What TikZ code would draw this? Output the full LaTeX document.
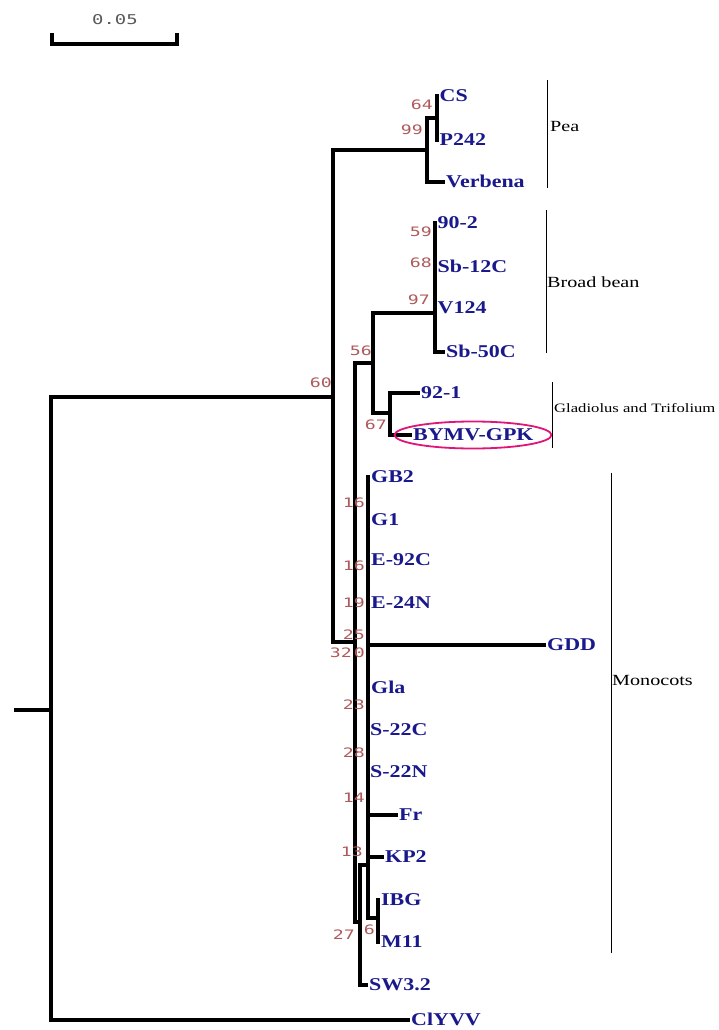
\documentclass[tikz,border=0pt]{standalone}
\usepackage{fontspec}
\usepackage{xcolor}
\usepackage{tikz}
\usetikzlibrary{shapes.geometric}
\setmainfont{Liberation Serif}
\newfontfamily\taxfont[FakeStretch=1.22]{Liberation Serif}
\newfontfamily\grpfont[FakeStretch=1.3]{Liberation Serif}
\newfontfamily\bootfont[FakeStretch=1.4]{DejaVu Sans Mono}
\definecolor{taxblue}{RGB}{25,25,140}
\definecolor{bootred}{RGB}{175,90,90}
\definecolor{ovalpink}{RGB}{225,20,120}
\tikzset{
 br/.style={line width=3.8pt},
 grp/.style={line width=0.8pt},
 leaf/.style={anchor=west,inner sep=1pt,text height=11.5pt,text depth=0pt,text=taxblue,
  font=\taxfont\bfseries\fontsize{18pt}{18pt}\selectfont},
 boot/.style={anchor=east,inner sep=0pt,text=bootred,font=\bootfont\fontsize{13pt}{13pt}\selectfont},
 grplab/.style={anchor=west,inner sep=1pt,font=\grpfont\fontsize{15.5pt}{15.5pt}\selectfont}
}
\begin{document}
\begin{tikzpicture}[x=1pt,y=-1pt]
\path[use as bounding box,fill=white](0,0)rectangle(719,1030);
%scale bar
\draw[br](52,33)|-(177,44)--(177,33);
\node[text=black!65,font=\bootfont\fontsize{13.5pt}{13.5pt}\selectfont] (scale) at (115,20) {0.05};
%inner nodes
\coordinate (base) at (14,710);
\coordinate (root) at (51,710);
\coordinate (n60) at (333,397);
\coordinate (n99) at (427,150);
\coordinate (n64) at (437,118);
\coordinate (nX) at (355,642);
\coordinate (n56) at (373,363);
\coordinate (n97) at (435,313);
\coordinate (n67) at (390,413);
\coordinate (n27) at (360,922);
\coordinate (nM) at (368,865);
\coordinate (nIM) at (378,918);
%leaves
\node[leaf] (CS) at (438.5,96) {CS};
\node[leaf] (P242) at (438.5,140) {P242};
\node[leaf] (Verbena) at (445,182) {Verbena};
\node[leaf] (t902) at (436.5,223) {90-2};
\node[leaf] (Sb12C) at (436.5,267) {Sb-12C};
\node[leaf] (V124) at (436.5,308) {V124};
\node[leaf] (Sb50C) at (445,352) {Sb-50C};
\node[leaf] (t921) at (420,393) {92-1};
\node[leaf] (BYMV) at (412,435) {BYMV-GPK};
\node[leaf] (GB2) at (370,477) {GB2};
\node[leaf] (G1) at (370,520) {G1};
\node[leaf] (E92C) at (370,560) {E-92C};
\node[leaf] (E24N) at (370,603) {E-24N};
\node[leaf] (GDD) at (546,645) {GDD};
\node[leaf] (Gla) at (370,688) {Gla};
\node[leaf] (S22C) at (369,730) {S-22C};
\node[leaf] (S22N) at (369,772) {S-22N};
\node[leaf] (Fr) at (398,815) {Fr};
\node[leaf] (KP2) at (384,857) {KP2};
\node[leaf] (IBG) at (380,900) {IBG};
\node[leaf] (M11) at (380,942) {M11};
\node[leaf] (SW32) at (368,985) {SW3.2};
\node[leaf] (ClYVV) at (410,1020) {ClYVV};
%branches
\draw[br](base)--(root);
\draw[br](root)|-(n60) (root)|-(ClYVV.west);
\draw[br](n60)|-(n99) (n60)|-(nX);
\draw[br](n99)|-(n64) (n99)|-(Verbena.west);
\draw[br](n64)|-(CS.west) (n64)|-(P242.west);
\draw[br](nX)|-(n56) (nX)|-(n27);
\draw[br](n56)|-(n97) (n56)|-(n67);
\draw[br](n97)|-(t902.west) (n97)|-(Sb12C.west) (n97)|-(V124.west) (n97)|-(Sb50C.west);
\draw[br](n67)|-(t921.west) (n67)|-(BYMV.west);
\draw[br](n27)|-(nM) (n27)|-(SW32.west);
\draw[br](nM)|-(GB2.west) (nM)|-(G1.west) (nM)|-(E92C.west) (nM)|-(E24N.west)
 (nM)|-(GDD.west) (nM)|-(Gla.west) (nM)|-(S22C.west) (nM)|-(S22N.west)
 (nM)|-(Fr.west) (nM)|-(KP2.west) (nM)|-(nIM);
\draw[br](nIM)|-(IBG.west) (nIM)|-(M11.west);
\node[draw=ovalpink,line width=1.8pt,ellipse,minimum width=157pt,minimum height=27pt] (oval) at (473,435) {};
%bootstrap values
\node[boot] (b60) at (332,383) {60};
\node[boot] (b99) at (423,130) {99};
\node[boot] (b64) at (433,105) {64};
\node[boot] (b59) at (432,232) {59};
\node[boot] (b68) at (432,263) {68};
\node[boot] (b97) at (430,300) {97};
\node[boot] (b56) at (372,351) {56};
\node[boot] (b67) at (387,425) {67};
\node[boot] (b16a) at (365,503) {16};
\node[boot] (b16b) at (365,566) {16};
\node[boot] (b19) at (365,603) {19};
\node[boot] (b25) at (365,635) {25};
\node[boot] (b32) at (352,653) {32};
\node[boot] (b0) at (365,653) {0};
\node[boot] (b23) at (365,705) {23};
\node[boot] (b28) at (365,753) {28};
\node[boot] (b14) at (365,798) {14};
\node[boot] (b13) at (363,852) {13};
\node[boot] (b27) at (355,935) {27};
\node[boot] (b6) at (375,930) {6};
%groups
\draw[grp](547,80)--(547,188);
\node[grplab] (pea) at (549,127) {Pea};
\draw[grp](546,210)--(546,353);
\node[grplab] (bean) at (546,282) {Broad bean};
\draw[grp](552,382)--(552,448);
\node[grplab,font=\grpfont\fontsize{12.8pt}{12.8pt}\selectfont] (glad) at (553,408) {Gladiolus and Trifolium};
\draw[grp](611,473)--(611,953);
\node[grplab] (mono) at (611,680) {Monocots};
\end{tikzpicture}
\end{document}
